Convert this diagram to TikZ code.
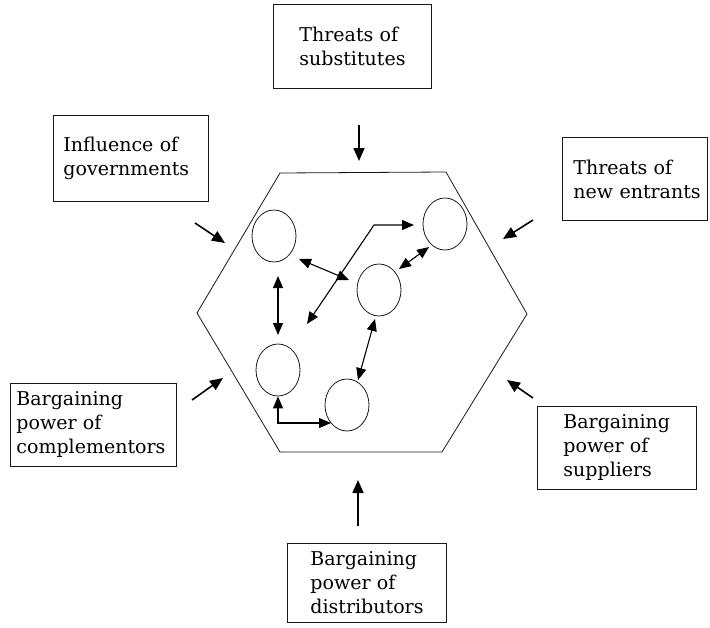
\documentclass[tikz,border=0pt]{standalone}
\usepackage{fontspec}
\setmainfont{DejaVu Serif}
\usetikzlibrary{arrows.meta,shapes.geometric}
\begin{document}
\begin{tikzpicture}[x=1pt,y=-1pt,
  force/.style={draw=black!90,line width=0.9pt,inner ysep=0pt,align=left,
    anchor=north west,font={\fontsize{19}{24}\selectfont},text=black},
  actor/.style={draw=black!90,line width=0.8pt,ellipse,minimum width=44pt,minimum height=52pt,inner sep=0pt},
  pressure/.style={line width=1.6pt,-{Triangle[length=13pt,width=11pt]}},
  link/.style={line width=1.1pt,{Triangle[length=12pt,width=10pt]}-{Triangle[length=12pt,width=10pt]}}]
\useasboundingbox (0,0) rectangle (710,627);

% industry boundary
\draw[line width=0.8pt,black!90] (280,173) -- (446,172) -- (527,314) -- (442,452)
  -- (280,452) -- (197,313) -- cycle;

% surrounding forces (width = text width + 2 x inner xsep)
\node[force,inner xsep=26pt,text width=106pt,minimum height=84pt] (subs) at (273,4)
  {\mbox{Threats of}\\substitutes};
\node[force,inner xsep=10pt,text width=135pt,minimum height=86pt] (gov) at (53,115)
  {\mbox{Influence of}\\governments};
\node[force,inner xsep=11pt,text width=123pt,minimum height=83pt] (entr) at (562,137)
  {\mbox{Threats of}\\\mbox{new entrants}};
\node[force,inner xsep=6pt,text width=154pt,minimum height=83pt] (compl) at (10,383)
  {Bargaining\\\mbox{power of}\\\mbox{complementors}};
\node[force,inner xsep=26pt,text width=107pt,minimum height=83pt] (supp) at (537,406)
  {Bargaining\\\mbox{power of}\\suppliers};
\node[force,inner xsep=23pt,text width=113pt,minimum height=79pt] (dist) at (287,543)
  {Bargaining\\\mbox{power of}\\\mbox{distributors}};

% firms inside the industry
\node[actor] (c1) at (274,236) {};
\node[actor] (c2) at (445,224) {};
\node[actor] (c3) at (379,290) {};
\node[actor] (c4) at (278,370) {};
\node[actor] (c5) at (347,405) {};

% arrow ends
\coordinate (subsT) at (359,125);  \coordinate (subsH) at (359,161);
\coordinate (govT)  at (195,223);  \coordinate (govH)  at (225,243);
\coordinate (entrT) at (533,220);  \coordinate (entrH) at (503,239);
\coordinate (complT) at (192,400); \coordinate (complH) at (223,378);
\coordinate (suppT) at (533,398);  \coordinate (suppH) at (507,380);
\coordinate (distT) at (358,526);  \coordinate (distH) at (358,480);

\draw[pressure] (subsT) -- (subsH);
\draw[pressure] (govT) -- (govH);
\draw[pressure] (entrT) -- (entrH);
\draw[pressure] (complT) -- (complH);
\draw[pressure] (suppT) -- (suppH);
\draw[pressure] (distT) -- (distH);

% links between firms
\coordinate (a1) at (278,276); \coordinate (a4) at (278,335);
\coordinate (b1) at (299,259); \coordinate (b3) at (349,280);
\coordinate (free) at (307,324); \coordinate (bend) at (374,225); \coordinate (b2) at (414,225);
\coordinate (d3) at (399,269); \coordinate (d2) at (429,247);
\coordinate (e3) at (375,319); \coordinate (e5) at (358,380);
\coordinate (f5) at (331,423);

\draw[link] (a1) -- (a4);
\draw[link] (b1) -- (b3);
\draw[link] (free) -- (bend) -- (b2);
\draw[link] (d3) -- (d2);
\draw[link] (e3) -- (e5);
\draw[link] (c4.south) |- (f5);
\end{tikzpicture}
\end{document}
